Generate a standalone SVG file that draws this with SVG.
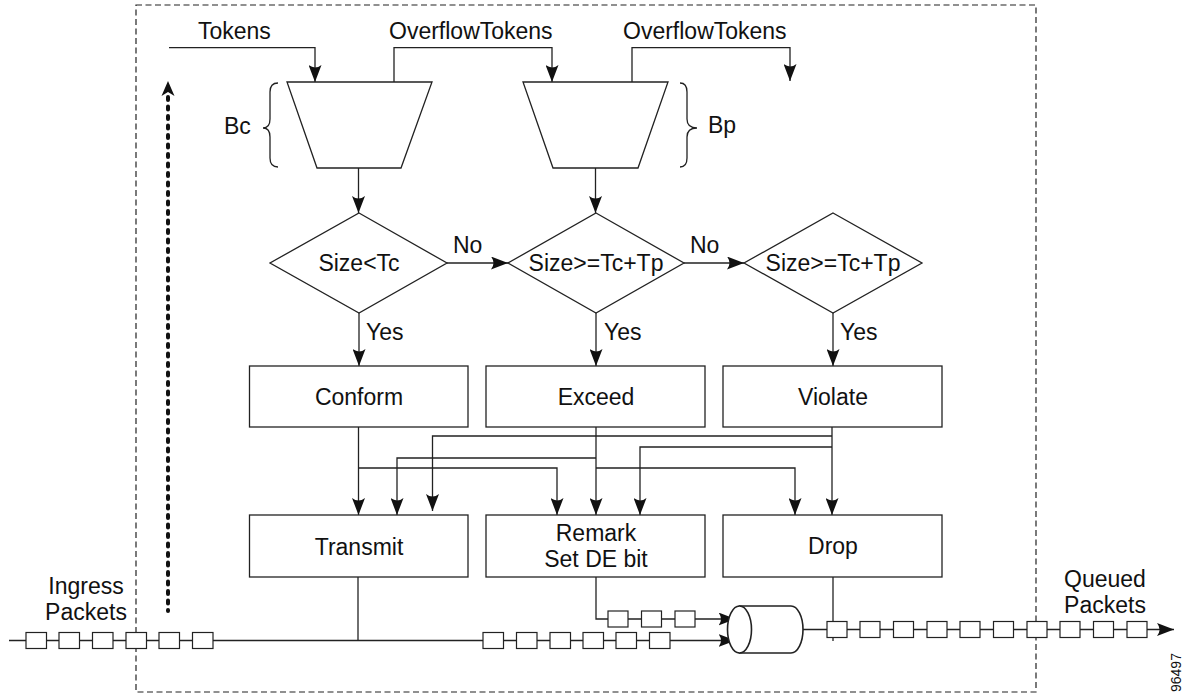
<svg xmlns="http://www.w3.org/2000/svg" width="1190" height="696" viewBox="0 0 1190 696">
<defs>
<marker id="ah" markerUnits="userSpaceOnUse" viewBox="0 0 17 13" refX="17" refY="6.5" markerWidth="17" markerHeight="13" orient="auto">
<path d="M0,0 L17,6.5 L0,13 Q5,6.5 0,0 Z" fill="#111"/>
</marker>
<style>
text{font-family:"Liberation Sans",Arial,sans-serif;font-size:23px;fill:#111}
.ln{fill:none;stroke:#222;stroke-width:1.3}
.arr{fill:none;stroke:#222;stroke-width:1.3;marker-end:url(#ah)}
.box{fill:#fff;stroke:#222;stroke-width:1.3}
.pk{fill:#fff;stroke:#222;stroke-width:1.2}
.mid{text-anchor:middle}
</style>
</defs>
<rect width="1190" height="696" fill="#fff"/>
<!-- dashed boundary -->
<rect x="136" y="5" width="900" height="687" fill="none" stroke="#222" stroke-width="1.2" stroke-dasharray="6 3.5"/>

<g id="connectors">
<!-- tokens -->
<path class="arr" d="M169,47.7 H315 V82"/>
<path class="arr" d="M394,82 V47.7 H552 V82"/>
<path class="arr" d="M632,82 V47.7 H790 V81"/>
<!-- bucket to diamonds -->
<path class="arr" d="M358.5,168 V213"/>
<path class="arr" d="M595.5,168 V213"/>
<!-- No arrows -->
<path class="arr" d="M447,263 H508"/>
<path class="arr" d="M684,263 H744"/>
<!-- Yes arrows -->
<path class="arr" d="M359,313 V366"/>
<path class="arr" d="M596,313 V366"/>
<path class="arr" d="M833,313 V366"/>
<!-- conform -->
<path class="arr" d="M358.5,427 V515"/>
<path class="arr" d="M358.5,468 H557 V515"/>
<!-- exceed -->
<path class="arr" d="M596,427 V515"/>
<path class="arr" d="M596,458 H397 V515"/>
<path class="arr" d="M596,468 H795 V515"/>
<!-- violate -->
<path class="arr" d="M832,427 V515"/>
<path class="arr" d="M832,436 H432.5 V511"/>
<path class="arr" d="M832,447 H640 V515"/>
<!-- bottom lines -->
<path class="ln" d="M358,577 V640.5"/>
<path class="arr" d="M9,640.5 H735.5"/>
<path class="arr" d="M596,577 V619 H735.5"/>
<path class="arr" d="M803,629.5 H1174"/>
<path class="ln" d="M833,577 V641"/>
<!-- thick dashed arrow -->
<path d="M168,97 V611" fill="none" stroke="#111" stroke-width="4" stroke-linecap="round" stroke-dasharray="3 6.5"/>
<path d="M168,81 L174.5,96 L168,92 L161.5,96 Z" fill="#111"/>
</g>

<g id="bucket-bc">
<path class="box" d="M287,82 H432 L401,168 H317 Z"/>
<path class="ln" d="M278,83 C272,83 270,86 270,92 L270,119 C270,124 268,128 263,128 C268,128 270,132 270,137 L270,158 C270,164 272,167 278,167"/>
<text x="224" y="134">Bc</text>
</g>
<g id="bucket-bp">
<path class="box" d="M523,82 H668 L638,168 H553 Z"/>
<path class="ln" d="M680,83 C685,83 687,86 687,92 L687,119 C687,124 689,128 697,128 C689,128 687,132 687,137 L687,158 C687,164 685,167 680,167"/>
<text x="708" y="133">Bp</text>
</g>
<g id="labels-top">
<text x="198" y="39">Tokens</text>
<text x="389" y="39">OverflowTokens</text>
<text x="623" y="39">OverflowTokens</text>
</g>

<g id="d1">
<path class="box" d="M359,213 L447,263 L359,313 L270,263 Z"/>
<text class="mid" x="359" y="271">Size&lt;Tc</text>
</g>
<g id="d2">
<path class="box" d="M596,213 L684,263 L596,313 L508,263 Z"/>
<text class="mid" x="596" y="271">Size&gt;=Tc+Tp</text>
</g>
<g id="d3">
<path class="box" d="M833,213 L922,263 L833,313 L744,263 Z"/>
<text class="mid" x="833" y="271">Size&gt;=Tc+Tp</text>
</g>
<g id="edge-labels">
<text x="453" y="253">No</text>
<text x="690" y="253">No</text>
<text x="366" y="340">Yes</text>
<text x="604" y="340">Yes</text>
<text x="840" y="340">Yes</text>
</g>

<g id="conform"><rect class="box" x="249.5" y="366" width="218.5" height="61"/><text class="mid" x="359" y="405">Conform</text></g>
<g id="exceed"><rect class="box" x="486" y="366" width="219" height="61"/><text class="mid" x="596" y="405">Exceed</text></g>
<g id="violate"><rect class="box" x="723" y="366" width="219" height="61"/><text class="mid" x="833" y="405">Violate</text></g>
<g id="transmit"><rect class="box" x="249.5" y="515" width="218.5" height="62"/><text class="mid" x="359" y="555">Transmit</text></g>
<g id="remark"><rect class="box" x="486" y="515" width="219" height="62"/><text class="mid" x="596" y="541">Remark</text><text class="mid" x="596" y="567">Set DE bit</text></g>
<g id="drop"><rect class="box" x="723" y="515" width="219" height="62"/><text class="mid" x="833" y="554">Drop</text></g>

<g id="queue">
<path class="box" d="M739.5,606 H791 A12,23.5 0 0 1 791,653 H739.5 Z" style="stroke-width:1.6"/>
<ellipse class="box" cx="739.5" cy="629.5" rx="12" ry="23.5" style="stroke-width:1.6"/>
</g>

<g id="packets">
<rect class="pk" x="26" y="632.5" width="20.5" height="16"/>
<rect class="pk" x="59" y="632.5" width="20.5" height="16"/>
<rect class="pk" x="92.5" y="632.5" width="20.5" height="16"/>
<rect class="pk" x="126" y="632.5" width="20.5" height="16"/>
<rect class="pk" x="159" y="632.5" width="20.5" height="16"/>
<rect class="pk" x="192.5" y="632.5" width="20.5" height="16"/>
<rect class="pk" x="483" y="632.5" width="20.5" height="16"/>
<rect class="pk" x="516.5" y="632.5" width="20.5" height="16"/>
<rect class="pk" x="550" y="632.5" width="20.5" height="16"/>
<rect class="pk" x="583" y="632.5" width="20.5" height="16"/>
<rect class="pk" x="616" y="632.5" width="20.5" height="16"/>
<rect class="pk" x="649.5" y="632.5" width="20.5" height="16"/>
<rect class="pk" x="608" y="611" width="20" height="16"/>
<rect class="pk" x="641.5" y="611" width="20" height="16"/>
<rect class="pk" x="675" y="611" width="20" height="16"/>
<rect class="pk" x="827" y="621.5" width="20" height="16"/>
<rect class="pk" x="860" y="621.5" width="20" height="16"/>
<rect class="pk" x="893.5" y="621.5" width="20" height="16"/>
<rect class="pk" x="927" y="621.5" width="20" height="16"/>
<rect class="pk" x="960" y="621.5" width="20" height="16"/>
<rect class="pk" x="993.5" y="621.5" width="20" height="16"/>
<rect class="pk" x="1027" y="621.5" width="20" height="16"/>
<rect class="pk" x="1060" y="621.5" width="20" height="16"/>
<rect class="pk" x="1093.5" y="621.5" width="20" height="16"/>
<rect class="pk" x="1127" y="621.5" width="20" height="16"/>
</g>

<g id="side-labels">
<text class="mid" x="86" y="594">Ingress</text>
<text class="mid" x="86" y="620">Packets</text>
<text class="mid" x="1105" y="587">Queued</text>
<text class="mid" x="1105" y="613">Packets</text>
<text x="0" y="0" transform="translate(1181,692) rotate(-90)" style="font-size:14px">96497</text>
</g>
</svg>
